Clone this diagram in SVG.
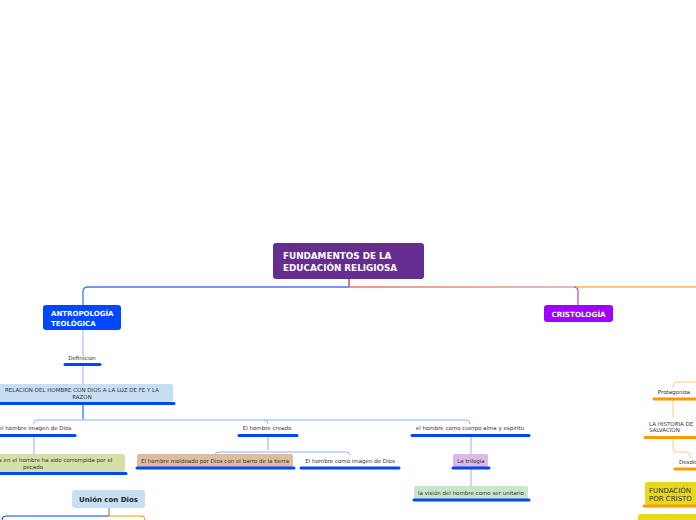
<svg xmlns="http://www.w3.org/2000/svg" width="696" height="520" viewBox="0 0 696 520">
<style>
text{font-family:"DejaVu Sans","Liberation Sans",sans-serif;}
.w{fill:#fff;font-weight:bold;}
.s{font-size:5.5px;fill:#333;}
.bar{stroke:#0047ff;stroke-width:3;stroke-linecap:round;fill:none;}
.obar{stroke:#ff9900;stroke-width:3;stroke-linecap:round;fill:none;}
.lc{stroke:#8fb0ff;stroke-width:1;fill:none;}
.oc{stroke:#ffcc80;stroke-width:1;fill:none;}
</style>
<defs>
<linearGradient id="gr" gradientUnits="userSpaceOnUse" x1="349" y1="0" x2="576" y2="0">
<stop offset="0" stop-color="#e87a45"/>
<stop offset="1" stop-color="#e8a0a0"/>
</linearGradient>
</defs>
<g id="connectors">
<path d="M349,279 V287" stroke="#c0504d" stroke-width="1.5" fill="none"/>
<path d="M349,287 H88 Q83,287 83,292 V305" stroke="#3d78ff" stroke-width="1.3" fill="none"/>
<path d="M349,287 H574" stroke="url(#gr)" stroke-width="1.3" fill="none"/>
<path d="M574,287 Q578,287 578,291 V305" stroke="#b84dff" stroke-width="1.3" fill="none"/>
<path d="M576,287 H696" stroke="#ffb050" stroke-width="1.3" fill="none"/>
<path d="M83,330 V356" class="lc"/>
<path d="M83,366 V384" class="lc"/>
<path d="M83,404 V419" stroke="#0047ff" stroke-width="1" fill="none"/>
<path d="M34,424 V422 Q34,420 38,420 H466 Q470,420 470,424" class="lc"/>
<path d="M268,424 Q268,420 264,420" class="lc"/>
<path d="M34,437 V454" class="lc"/>
<path d="M268,437 V450" class="lc"/>
<path d="M215,455 Q215,452 219,452 H346 Q350,452 350,455" class="lc"/>
<path d="M471,437 V454" class="lc"/>
<path d="M471,469 V486" class="lc"/>
<path d="M109,508 V516" stroke="#c09a70" stroke-width="1.5" fill="none"/>
<path d="M109,516 H6 Q2,516 2,520" stroke="#0047ff" stroke-width="1" fill="none"/>
<path d="M109,516 H141 Q145,516 145,520" stroke="#ff9900" stroke-width="1" fill="none"/>
<path d="M696,382 H678 Q673,382 673,386 V388" class="oc"/>
<path d="M673,400 V418" class="oc"/>
<path d="M673,438 V448 Q673,452 677,452 H686 Q690,452 690,456 V458" class="oc"/>
</g>
<g id="root">
<rect x="273" y="243" width="151" height="36" rx="3" fill="#662d91"/>
<text class="w" x="283" y="259" font-size="8.8">FUNDAMENTOS DE LA</text>
<text class="w" x="283" y="270.5" font-size="8.8">EDUCACIÓN RELIGIOSA</text>
</g>
<g id="antropologia">
<rect x="43" y="305" width="78" height="25" rx="3" fill="#0047ff"/>
<text class="w" x="51" y="316" font-size="7">ANTROPOLOGÍA</text>
<text class="w" x="51" y="325.5" font-size="7">TEOLÓGICA</text>
</g>
<g id="cristologia">
<rect x="544" y="305" width="69" height="17" rx="3" fill="#a000ff"/>
<text class="w" x="578.5" y="316.5" font-size="7.2" text-anchor="middle">CRISTOLOGÍA</text>
</g>
<g id="definicion">
<text class="s" x="82" y="360" text-anchor="middle">Definicion</text>
<path d="M65,364.5 H100" class="bar"/>
</g>
<g id="relacion">
<rect x="-3" y="384" width="176" height="18" rx="2" fill="#c6dff2"/>
<text class="s" x="82" y="392" text-anchor="middle" fill="#444">RELACIÓN DEL HOMBRE CON DIOS A LA LUZ DE FE Y LA</text>
<text class="s" x="82" y="398.5" text-anchor="middle" fill="#444">RAZON</text>
<path d="M0,403.5 H174" class="bar"/>
</g>
<g id="imagen">
<text class="s" x="35" y="429.5" text-anchor="middle">el hombre imagen de Dios</text>
<path d="M0,435.5 H75" class="bar"/>
</g>
<g id="corrompida">
<rect x="-3" y="454" width="128" height="18" rx="2" fill="#d5e0a6"/>
<text class="s" x="-1" y="462" fill="#444">s en el hombre ha sido corrompida por el</text>
<text class="s" x="33" y="469" text-anchor="middle" fill="#444">pecado</text>
<path d="M0,473.5 H126" class="bar"/>
</g>
<g id="creado">
<text class="s" x="267" y="429.5" text-anchor="middle">El hombre creado</text>
<path d="M239,435.5 H297" class="bar"/>
</g>
<g id="moldeado">
<rect x="137" y="454" width="156" height="13" rx="2" fill="#e0bc9e"/>
<text class="s" x="215" y="462.5" text-anchor="middle" fill="#555">El hombre moldeado por Dios con el barro de la tierra</text>
<path d="M137,468 H294" class="bar"/>
</g>
<g id="comoimagen">
<text class="s" x="350" y="462.5" text-anchor="middle">El hombre como imagen de Dios</text>
<path d="M301,468 H399" class="bar"/>
</g>
<g id="cuerpo">
<text class="s" x="470" y="429.5" text-anchor="middle">el hombre como cuerpo alma y espiritu</text>
<path d="M412,435.5 H529" class="bar"/>
</g>
<g id="trilogia">
<rect x="453" y="454" width="35" height="13" rx="2" fill="#dcb9e6"/>
<text class="s" x="471" y="462.5" text-anchor="middle">La trilogia</text>
<path d="M453,468 H489" class="bar"/>
</g>
<g id="unitario">
<rect x="414" y="486" width="114" height="13" rx="2" fill="#c8e6c9"/>
<text class="s" x="471" y="494.5" text-anchor="middle" fill="#555">la visión del hombre como ser unitario</text>
<path d="M414,500 H529" class="bar"/>
</g>
<g id="union">
<rect x="72" y="490" width="73" height="18" rx="3" fill="#c6dff2"/>
<text x="108.5" y="501.5" font-size="7" font-weight="bold" fill="#222" text-anchor="middle">Unión con Dios</text>
</g>
<g id="protagoniza">
<text class="s" x="674" y="394" text-anchor="middle">Protagoniza</text>
<path d="M654,399 H696" class="obar"/>
</g>
<g id="historia">
<text class="s" x="649" y="426">LA HISTORIA DE</text>
<text class="s" x="649" y="432">SALVACIÓN</text>
<path d="M645,437.5 H696" class="obar"/>
</g>
<g id="desde">
<text class="s" x="679" y="464">Desde</text>
<path d="M675,469 H696" class="obar"/>
</g>
<g id="fundacion">
<rect x="645" y="482" width="54" height="23" rx="3" fill="#e6d81c"/>
<text x="649" y="492.5" font-size="7" fill="#333">FUNDACIÓN</text>
<text x="649" y="501" font-size="7" fill="#333">POR CRISTO</text>
<path d="M644,506 H696" class="obar"/>
</g>
<g id="next">
<rect x="638" y="514" width="60" height="10" rx="3" fill="#e6d81c"/>
</g>
</svg>
